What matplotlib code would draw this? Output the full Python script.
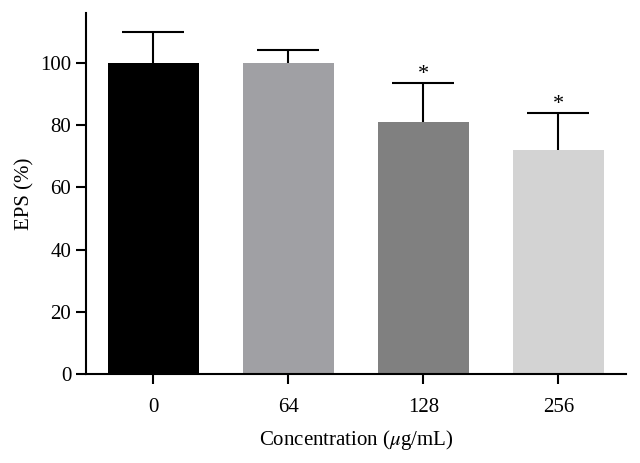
import matplotlib
matplotlib.use('Agg')
import numpy as np
import matplotlib.pyplot as plt

# data
concentrations = ['0', '64', '128', '256']
eps_mean = [100, 99.8, 81, 72]
eps_err = [10, 4.2, 12.6, 12]
significant = [False, False, True, True]
bar_colors = ['#000000', '#a0a0a4', '#808080', '#d3d3d3']

plt.rcParams['font.family'] = ['Liberation Serif', 'DejaVu Serif']
plt.rcParams['mathtext.fontset'] = 'stix'

fig = plt.figure(figsize=(6.4, 4.63), dpi=100)
ax = fig.add_axes([0.134, 0.192, 0.844, 0.78])

x = np.arange(len(concentrations))
ax.bar(x, eps_mean, width=0.67, color=bar_colors, zorder=2)
eb = ax.errorbar(x, eps_mean, yerr=[np.zeros(len(x)), eps_err], fmt='none',
                 ecolor='black', elinewidth=1.5, capsize=22, capthick=1.5,
                 zorder=3)
# only the upper cap is shown
eb[1][0].set_visible(False)

for xi, m, e, s in zip(x, eps_mean, eps_err, significant):
    if s:
        ax.text(xi, m + e - 0.5, '*', ha='center', va='bottom', fontsize=16)

ax.set_xlim(-0.5, 3.5)
ax.set_ylim(0, 116)
ax.set_yticks(np.arange(0, 101, 20))
ax.set_xticks(x)
ax.set_xticklabels(concentrations)

for side in ['top', 'right']:
    ax.spines[side].set_visible(False)
for side in ['left', 'bottom']:
    ax.spines[side].set_linewidth(1.5)
ax.tick_params(axis='both', width=1.5, length=7, labelsize=15, direction='out')
ax.tick_params(axis='x', pad=10)

ax.set_xlabel(r'Concentration ($\mu$g/mL)', fontsize=15, labelpad=8)
ax.set_ylabel('EPS (%)', fontsize=15, labelpad=4)

fig.savefig('out.png', dpi=100)
